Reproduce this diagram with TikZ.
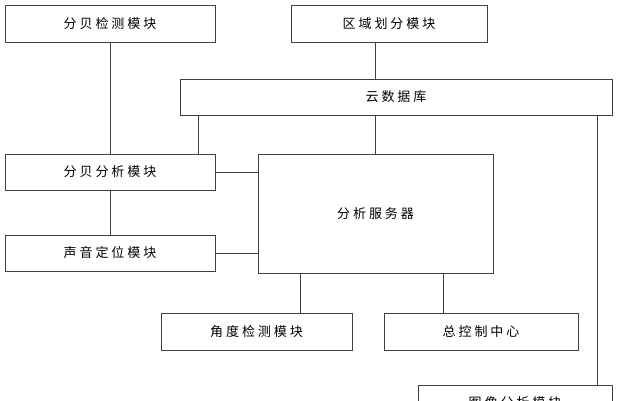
\documentclass[tikz,border=0pt]{standalone}
\usepackage{fontspec}
\newfontfamily\cjk{Noto Sans CJK SC}
\begin{document}
\begin{tikzpicture}[x=1pt,y=-1pt,line width=0.7pt,
  bx/.style={draw=black!75,font=\cjk\fontsize{13}{15}\selectfont,inner sep=0pt}]
\useasboundingbox (0,0) rectangle (618,400);
\clip (0,0) rectangle (618,400);
\draw[bx] (5,5) rectangle (215,42) node[midway] (a) {分 贝 检 测 模 块};
\draw[bx] (291,5) rectangle (487,42) node[midway] (b) {区 域 划 分 模 块};
\draw[bx] (180,79) rectangle (612,115) node[midway] (c) {云 数 据 库};
\draw[bx] (5,154) rectangle (215,190) node[midway] (d) {分 贝 分 析 模 块};
\draw[bx] (258,154) rectangle (493,273) node[midway] (e) {分 析 服 务 器};
\draw[bx] (5,235) rectangle (215,271) node[midway] (f) {声 音 定 位 模 块};
\draw[bx] (161,313) rectangle (352,350) node[midway] (g) {角 度 检 测 模 块};
\draw[bx] (384,313) rectangle (578,350) node[midway] (h) {总 控 制 中 心};
\draw[bx] (418,385) rectangle (612,420) node[midway] (i) {图 像 分 析 模 块};
\begin{scope}[draw=black!75]
\draw (110,42) -- (110,154);
\draw (375,42) -- (375,79);
\draw (198,115) -- (198,154);
\draw (375,115) -- (375,154);
\draw (597,115) -- (597,385);
\draw (215,172) -- (258,172);
\draw (110,190) -- (110,235);
\draw (215,253) -- (258,253);
\draw (300,273) -- (300,313);
\draw (443,273) -- (443,313);
\end{scope}
\end{tikzpicture}
\end{document}
